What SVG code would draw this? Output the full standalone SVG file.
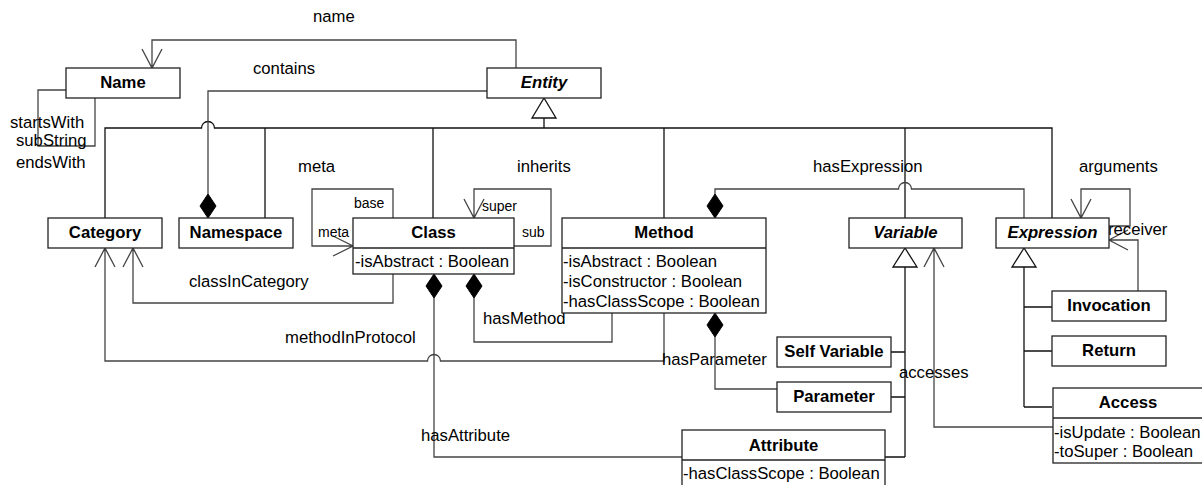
<svg xmlns="http://www.w3.org/2000/svg" width="1202" height="485" viewBox="0 0 1202 485">
<style>
text{font-family:"Liberation Sans",Arial,sans-serif;font-size:16.7px;fill:#000}
.t{font-weight:bold;text-anchor:middle}
.i{font-style:italic}
.s{font-size:14px}
.box{fill:#fff;stroke:#222;stroke-width:1.3}
.c{fill:none;stroke:#444;stroke-width:1.3}
.g{fill:none;stroke:#111;stroke-width:1.3}
.tri{fill:#fff;stroke:#111;stroke-width:1.3}
.dia{fill:#000;stroke:#000;stroke-width:1}
</style>
<defs>
<path id="dmd" d="M0,0 L8,12 L0,24 L-8,12 Z"/>
</defs>
<g id="connectors">
<path class="g" d="M105,218 V128 H201.5 A6.5,6.5 0 0 1 214.5,128 H1052 V218"/>
<path class="g" d="M265,128 V218 M433,128 V218 M664,128 V218 M905,128 V218 M544,118 V128"/>
<polygon class="tri" points="544,98 532,118 556,118"/>
<path class="g" d="M905,267 V457 M891,352 H905 M891,397 H905 M885,457 H905"/>
<polygon class="tri" points="905,248 893,267 917,267"/>
<path class="g" d="M1024,267 V407 M1024,307 H1052 M1024,351 H1052 M1024,407 H1052"/>
<polygon class="tri" points="1024,248 1012,267 1036,267"/>
<path class="c" d="M516,68 V40 H152 V68 M142,49 L152,68 L162,49"/>
<path class="c" d="M66,90 H38 V146 H95 V98"/>
<path class="c" d="M487,91 H208 V194"/>
<use href="#dmd" x="208" y="194" class="dia"/>
<path class="c" d="M393,218 V189 H312 V246 H353 M333,236 L353,246 L333,256"/>
<path class="c" d="M514,246 H551 V189 H474 V218 M464,199 L474,218 L484,199"/>
<path class="c" d="M715,194 V189 H898.5 A6.5,6.5 0 0 1 911.5,189 H1024 V218"/>
<use href="#dmd" x="715" y="194" class="dia"/>
<path class="c" d="M1109,226 H1130 V189 H1081 V218 M1071,199 L1081,218 L1091,199"/>
<path class="c" d="M1138,291 V240 H1109 M1128,230 L1109,240 L1128,250"/>
<path class="c" d="M393,274 V303 H133 V248 M123,267 L133,248 L143,267"/>
<path class="c" d="M664,313 V361 H440.5 A6.5,6.5 0 0 0 427.5,361 H105 V248 M95,267 L105,248 L115,267"/>
<path class="c" d="M474,298 V342 H612 V313"/>
<use href="#dmd" x="474" y="274" class="dia"/>
<path class="c" d="M434,298 V457 H682"/>
<use href="#dmd" x="434" y="274" class="dia"/>
<path class="c" d="M715,337 V389 H777"/>
<use href="#dmd" x="715" y="313" class="dia"/>
<path class="c" d="M1053,427 H934 V248 M924,267 L934,248 L944,267"/>
<text x="313" y="22">name</text>
<text x="253" y="74">contains</text>
<text x="10" y="128">startsWith</text>
<text x="16" y="146">subString</text>
<text x="16" y="168">endsWith</text>
<text x="298" y="172">meta</text>
<text x="354" y="208" class="s">base</text>
<text x="318" y="237" class="s">meta</text>
<text x="517" y="172">inherits</text>
<text x="482" y="211" class="s">super</text>
<text x="522" y="237" class="s">sub</text>
<text x="813" y="172">hasExpression</text>
<text x="1079" y="172">arguments</text>
<text x="1108" y="235">receiver</text>
<text x="189" y="287">classInCategory</text>
<text x="285" y="343">methodInProtocol</text>
<text x="483" y="324">hasMethod</text>
<text x="662" y="365">hasParameter</text>
<text x="421" y="441">hasAttribute</text>
<text x="899" y="378">accesses</text>
</g>
<g id="Name"><rect class="box" x="66" y="68" width="114" height="30"/><text class="t" x="123" y="88">Name</text></g>
<g id="Entity"><rect class="box" x="487" y="68" width="114" height="30"/><text class="t i" x="544" y="88">Entity</text></g>
<g id="Category"><rect class="box" x="48" y="218" width="114" height="30"/><text class="t" x="105" y="238">Category</text></g>
<g id="Namespace"><rect class="box" x="179" y="218" width="114" height="30"/><text class="t" x="236" y="238">Namespace</text></g>
<g id="Class"><rect class="box" x="353" y="218" width="161" height="56"/><line class="box" x1="353" y1="248" x2="514" y2="248"/><text class="t" x="433.5" y="238">Class</text><text x="355" y="267">-isAbstract : Boolean</text></g>
<g id="Method"><rect class="box" x="562" y="218" width="204" height="95"/><line class="box" x1="562" y1="248" x2="766" y2="248"/><text class="t" x="664" y="238">Method</text><text x="563" y="267">-isAbstract : Boolean</text><text x="563" y="287">-isConstructor : Boolean</text><text x="563" y="307">-hasClassScope : Boolean</text></g>
<g id="Variable"><rect class="box" x="849" y="218" width="113" height="30"/><text class="t i" x="905.5" y="238">Variable</text></g>
<g id="Expression"><rect class="box" x="996" y="218" width="113" height="30"/><text class="t i" x="1052.5" y="238">Expression</text></g>
<g id="Invocation"><rect class="box" x="1052" y="291" width="114" height="30"/><text class="t" x="1109" y="311">Invocation</text></g>
<g id="Return"><rect class="box" x="1052" y="336" width="114" height="30"/><text class="t" x="1109" y="356">Return</text></g>
<g id="Access"><rect class="box" x="1053" y="388" width="151" height="75"/><line class="box" x1="1053" y1="418" x2="1204" y2="418"/><text class="t" x="1128" y="408">Access</text><text x="1054" y="438">-isUpdate : Boolean</text><text x="1054" y="457">-toSuper : Boolean</text></g>
<g id="SelfVariable"><rect class="box" x="777" y="337" width="114" height="30"/><text class="t" x="834" y="357">Self Variable</text></g>
<g id="Parameter"><rect class="box" x="777" y="382" width="114" height="30"/><text class="t" x="834" y="402">Parameter</text></g>
<g id="Attribute"><rect class="box" x="682" y="430" width="203" height="60"/><line class="box" x1="682" y1="460" x2="885" y2="460"/><text class="t" x="783.5" y="451">Attribute</text><text x="683" y="479">-hasClassScope : Boolean</text></g>
</svg>
